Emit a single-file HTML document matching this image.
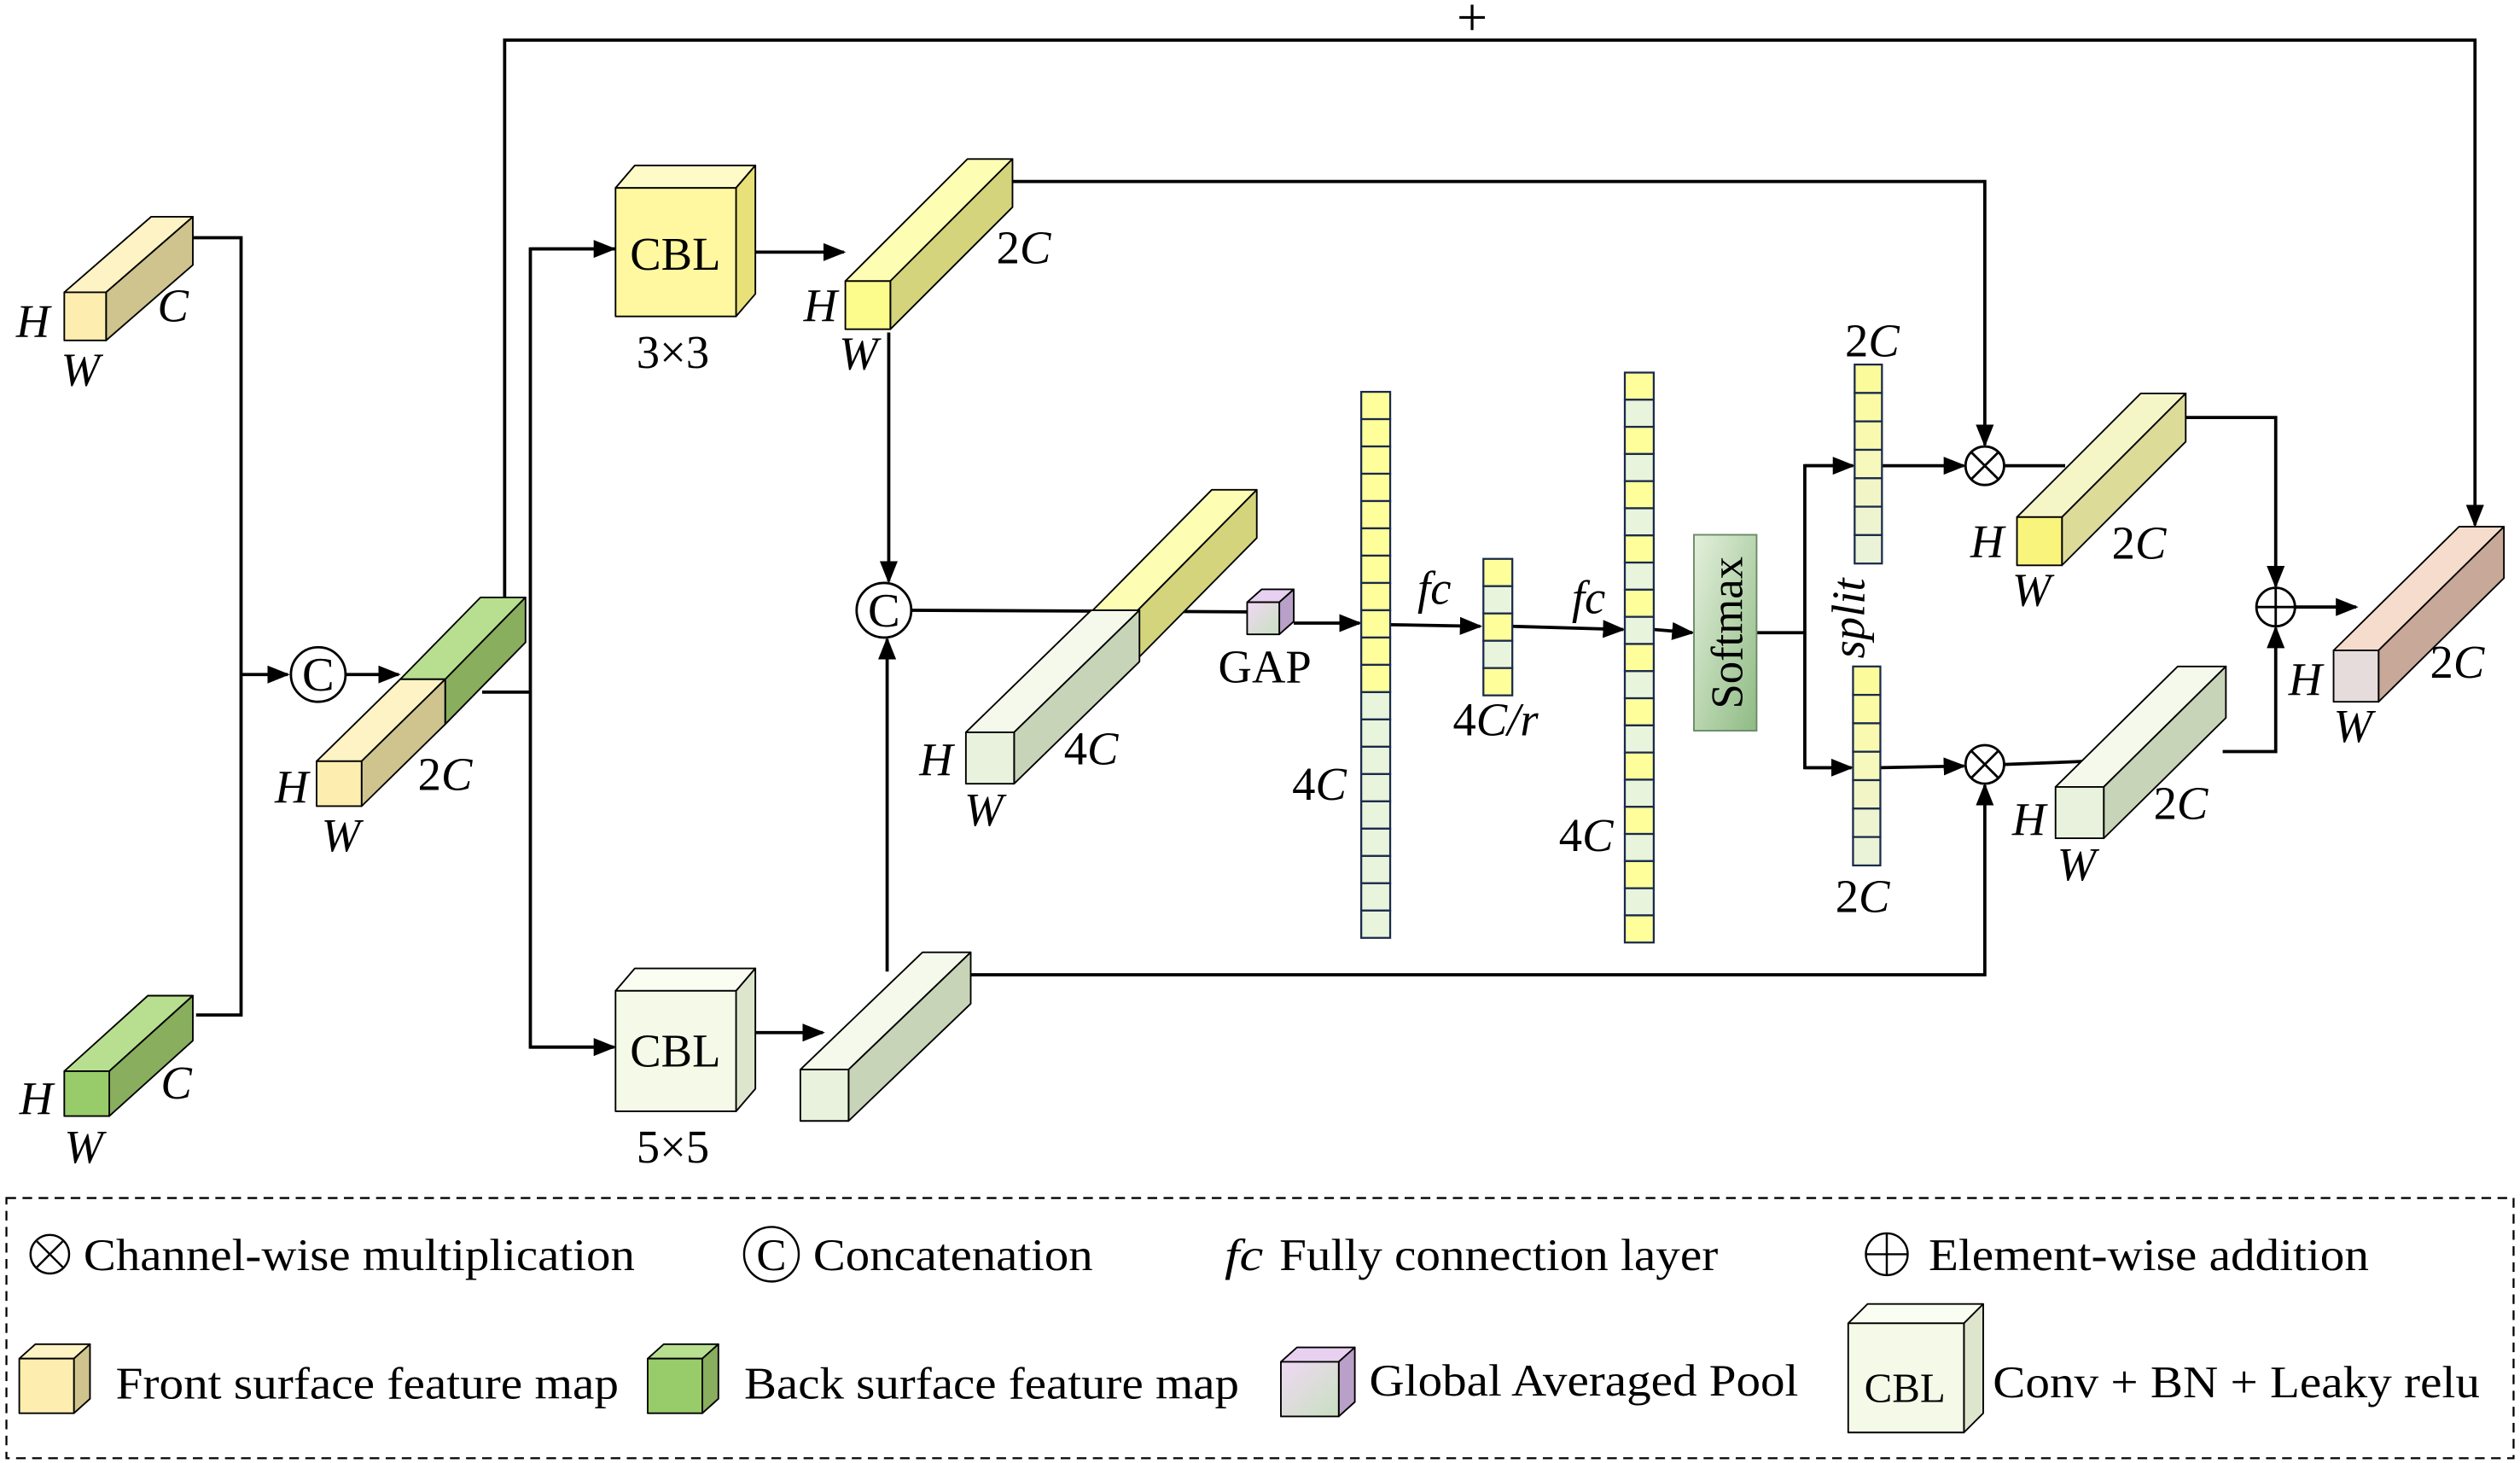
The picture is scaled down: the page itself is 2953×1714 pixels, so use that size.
<!DOCTYPE html>
<html><head><meta charset="utf-8"><style>
html,body{margin:0;padding:0;background:#fff}
svg{display:block;font-family:"Liberation Serif","Times New Roman","DejaVu Serif",serif}
svg text{font-family:"Liberation Serif","Times New Roman","DejaVu Serif",serif;fill:#000}
.i{font-style:italic}
</style></head><body>
<svg id="s" width="2953" height="1714" viewBox="0 0 1568 911" preserveAspectRatio="none" xmlns="http://www.w3.org/2000/svg" font-family="Liberation Serif, Times New Roman, DejaVu Serif, serif">
<defs>
<marker id="a" viewBox="0 0 10 10" refX="9" refY="5" markerWidth="7" markerHeight="7" orient="auto"><path d="M0,1 L10,5 L0,9 z" fill="#000"/></marker>
<linearGradient id="sm" x1="0" y1="0" x2="1" y2="1"><stop offset="0" stop-color="#e4f0dc"/><stop offset="1" stop-color="#8fbb84"/></linearGradient>
<linearGradient id="gp" x1="0" y1="0" x2="1" y2="1"><stop offset="0" stop-color="#f0d8f4"/><stop offset="1" stop-color="#c8e0c0"/></linearGradient>
</defs>
<g id="lines" stroke="#000" stroke-width="2" fill="none">
<polyline points="120,148 150,148 150,632 122,632"/>
<line x1="150" y1="420" x2="179" y2="420" marker-end="url(#a)"/>
<line x1="215" y1="420" x2="248" y2="420" marker-end="url(#a)"/>
<polyline points="314,372 314,25 1540,25 1540,327" marker-end="url(#a)"/>
<polyline points="300,431 330,431"/>
<polyline points="383,155 330,155 330,652 382,652"/>
<line x1="330" y1="155" x2="382" y2="155" marker-end="url(#a)"/>
<line x1="330" y1="652" x2="382" y2="652" marker-end="url(#a)"/>
<line x1="468" y1="157" x2="525" y2="157" marker-end="url(#a)"/>
<line x1="470" y1="643" x2="512" y2="643" marker-end="url(#a)"/>
<polyline points="630,113 1235,113 1235,277" marker-end="url(#a)"/>
<line x1="553" y1="207" x2="553" y2="362" marker-end="url(#a)"/>
<polyline points="604,607 1235,607 1235,489" marker-end="url(#a)"/>
<line x1="552" y1="605" x2="552" y2="398" marker-end="url(#a)"/>
<line x1="567" y1="380" x2="776" y2="381"/>
<line x1="805" y1="388" x2="846" y2="388" marker-end="url(#a)"/>
<line x1="865" y1="389" x2="921" y2="390" marker-end="url(#a)"/>
<line x1="941" y1="390" x2="1010" y2="392" marker-end="url(#a)"/>
<line x1="1029" y1="392" x2="1053" y2="394" marker-end="url(#a)"/>
<polyline points="1093,394 1123,394"/>
<polyline points="1153,290 1123,290 1123,478 1152,478"/>
<line x1="1123" y1="290" x2="1153" y2="290" marker-end="url(#a)"/>
<line x1="1123" y1="478" x2="1152" y2="478" marker-end="url(#a)"/>
<line x1="1171" y1="290" x2="1222" y2="290" marker-end="url(#a)"/>
<line x1="1170" y1="478" x2="1222" y2="477" marker-end="url(#a)"/>
<line x1="1247" y1="290" x2="1285" y2="290"/>
<line x1="1247" y1="476" x2="1300" y2="474"/>
<polyline points="1360,260 1416,260 1416,365" marker-end="url(#a)"/>
<polyline points="1383,468 1416,468 1416,391" marker-end="url(#a)"/>
<line x1="1428" y1="378" x2="1466" y2="378" marker-end="url(#a)"/>
</g>
<g id="shapes"></g>
<g stroke="#000" stroke-width="1.5" fill="#fff">
<circle cx="198" cy="420" r="17"/><circle cx="550" cy="380" r="17"/>
<circle cx="1235" cy="290" r="12"/><circle cx="1235" cy="476" r="12"/>
<circle cx="1416" cy="378" r="12"/>
<path d="M1227,282 L1243,298 M1243,282 L1227,298 M1227,468 L1243,484 M1243,468 L1227,484 M1404,378 L1428,378 M1416,366 L1416,390" fill="none"/>
</g>
<rect x="1054" y="333" width="39" height="122" fill="url(#sm)" stroke="#6a8a66" stroke-width="1"/>
<text x="1084" y="394" font-size="28" text-anchor="middle" transform="rotate(-90 1084 394)">Softmax</text>
<text x="198" y="430" font-size="30" text-anchor="middle">C</text>
<text x="550" y="390" font-size="30" text-anchor="middle">C</text>
<text x="916" y="22" font-size="34" text-anchor="middle">+</text>
<g font-size="29">
<text x="10" y="210" class="i">H</text><text x="38" y="240" class="i">W</text><text x="98" y="200" class="i">C</text>
<text x="12" y="694" class="i">H</text><text x="40" y="724" class="i">W</text><text x="100" y="684" class="i">C</text>
<text x="171" y="500" class="i">H</text><text x="200" y="530" class="i">W</text><text x="260" y="492">2<tspan class="i">C</tspan></text>
<text x="392" y="168">CBL</text><text x="396" y="229">3×3</text>
<text x="392" y="664">CBL</text><text x="396" y="724">5×5</text>
<text x="500" y="200" class="i">H</text><text x="522" y="230" class="i">W</text><text x="620" y="164">2<tspan class="i">C</tspan></text>
<text x="572" y="483" class="i">H</text><text x="600" y="514" class="i">W</text><text x="662" y="476">4<tspan class="i">C</tspan></text>
<text x="758" y="425">GAP</text>
<text x="882" y="376" class="i">fc</text><text x="904" y="458">4<tspan class="i">C/r</tspan></text>
<text x="978" y="382" class="i">fc</text>
<text x="804" y="498">4<tspan class="i">C</tspan></text><text x="970" y="530">4<tspan class="i">C</tspan></text>
<text x="1148" y="222">2<tspan class="i">C</tspan></text><text x="1142" y="568">2<tspan class="i">C</tspan></text>
<text x="1160" y="410" class="i" transform="rotate(-90 1160 410)">split</text>
<text x="1226" y="347" class="i">H</text><text x="1252" y="377" class="i">W</text><text x="1314" y="348">2<tspan class="i">C</tspan></text>
<text x="1252" y="520" class="i">H</text><text x="1280" y="548" class="i">W</text><text x="1340" y="510">2<tspan class="i">C</tspan></text>
<text x="1424" y="433" class="i">H</text><text x="1452" y="462" class="i">W</text><text x="1512" y="422">2<tspan class="i">C</tspan></text>
</g>
<rect x="4" y="746" width="1560" height="162" fill="none" stroke="#000" stroke-width="1.2" stroke-dasharray="6,4"/>
<g stroke="#000" stroke-width="1.3" fill="none">
<circle cx="31" cy="781" r="12"/><path d="M23,773 L39,789 M39,773 L23,789"/>
<circle cx="480" cy="781" r="17"/>
<circle cx="1174" cy="781" r="13"/><path d="M1161,781 L1187,781 M1174,768 L1174,794"/>
</g>
<g font-size="28">
<text x="480" y="791" text-anchor="middle">C</text>
<text x="52" y="791" textLength="343" lengthAdjust="spacingAndGlyphs">Channel-wise multiplication</text>
<text x="506" y="791" textLength="174" lengthAdjust="spacingAndGlyphs">Concatenation</text>
<text x="762" y="791" class="i" textLength="24" lengthAdjust="spacingAndGlyphs">fc</text>
<text x="796" y="791" textLength="273" lengthAdjust="spacingAndGlyphs">Fully connection layer</text>
<text x="1200" y="791" textLength="274" lengthAdjust="spacingAndGlyphs">Element-wise addition</text>
<text x="72" y="871" textLength="313" lengthAdjust="spacingAndGlyphs">Front surface feature map</text>
<text x="463" y="871" textLength="308" lengthAdjust="spacingAndGlyphs">Back surface feature map</text>
<text x="852" y="869" textLength="267" lengthAdjust="spacingAndGlyphs">Global Averaged Pool</text>
<text x="1160" y="873" font-size="26">CBL</text>
<text x="1240" y="870" textLength="303" lengthAdjust="spacingAndGlyphs">Conv + BN + Leaky relu</text>
</g>
</svg>
<script>
var g=document.getElementById('shapes'),NS='http://www.w3.org/2000/svg';
function P(pts,f,sw){var p=document.createElementNS(NS,'polygon');p.setAttribute('points',pts.map(a=>a.join(',')).join(' '));p.setAttribute('fill',f);p.setAttribute('stroke','#000');p.setAttribute('stroke-width',sw||1);p.setAttribute('stroke-linejoin','round');g.appendChild(p);}
function cub(x,y,w,h,dx,dy,ff,tf,sf){
P([[x,y],[x+dx,y-dy],[x+w+dx,y-dy],[x+w,y]],tf);
P([[x+w,y],[x+w+dx,y-dy],[x+w+dx,y+h-dy],[x+w,y+h]],sf);
P([[x,y],[x+w,y],[x+w,y+h],[x,y+h]],ff);}
var Y=['#fdeeb0','#fdf3c4','#cfc38e'],G=['#98cc6a','#b8df90','#88ae5e'],BY=['#fcfc8c','#fdfdb4','#d4d47c'],PG=['#e8f2dc','#f4f9ec','#c8d4b8'];
cub(40,182,26,30,54,47,...Y);
cub(40,667,28,28,52,47,...G);
cub(249,423,28,28,50,51,...G);
cub(197,474,28,28,52,51,...Y);
cub(383,117,75,80,12,14,'#fff8a0','#fffbc8','#e8e078');
cub(383,617,75,75,12,14,'#f5fae8','#fafdf2','#dde6cc');
cub(526,175,28,30,76,76,...BY);
cub(498,666,30,32,76,73,...PG);
cub(679,381,28,30,75,76,...BY);
cub(601,456,30,32,78,76,...PG);
cub(776,375,20,20,9,8,'url(#gp)','#e8d0f0','#b8a0c8');
cub(1255,322,28,30,77,77,'#f8f47c','#f4f6c8','#dcdc98');
cub(1279,490,30,32,76,75,...PG);
cub(1452,405,28,32,78,77,'#e6dcdc','#f6dccc','#c8a898');
cub(12,846,34,34,10,9,...Y);
cub(403,846,34,34,10,9,...G);
cub(797,848,36,34,10,9,'url(#gp)','#e8d0f0','#b8a0c8');
cub(1150,824,72,68,12,12,'#f5fae8','#fafdf2','#dde6cc');
function vec(x,y,w,n,h,colf){for(var i=0;i<n;i++){var r=document.createElementNS(NS,'rect');r.setAttribute('x',x);r.setAttribute('y',y+i*h);r.setAttribute('width',w);r.setAttribute('height',h);r.setAttribute('fill',colf(i));r.setAttribute('stroke','#1a2a4a');r.setAttribute('stroke-width',1.2);g.appendChild(r);}}
var yl='#fefe9a',gl='#e8f4dc';
vec(847,244,18,20,17,i=>i<11?yl:gl);
vec(923,348,18,5,17,i=>i%2?gl:yl);
vec(1011,232,18,21,16.9,i=>i%2?gl:yl);
var grad=['#fbfb9c','#fbfba6','#f9f9b0','#f6f8bc','#f2f6c6','#eef4d0','#eaf2d8'];
vec(1154,227,17,7,17.7,i=>grad[i]);
vec(1153,415,17,7,17.7,i=>grad[i]);
</script>
</body></html>
